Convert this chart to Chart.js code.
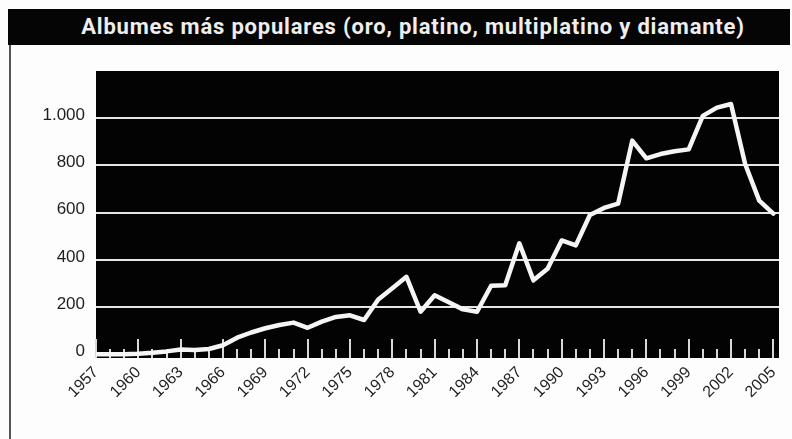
<!DOCTYPE html>
<html>
<head>
<meta charset="utf-8">
<script src="https://cdn.jsdelivr.net/npm/chart.js@4.4.1/dist/chart.umd.min.js"></script>
<style>
  html, body { margin: 0; padding: 0; background: #fdfdfd; }
  #wrap { position: relative; width: 792px; height: 439px; overflow: hidden; }
  #title {
    position: absolute; left: 8px; top: 9px; width: 782px; height: 36px;
    background: #050505; color: #eeeeee; box-sizing: border-box; padding-left: 28px;
    font-family: Roboto, "Liberation Sans", sans-serif; font-weight: bold; font-size: 22px;
    letter-spacing: 0.8px;
    line-height: 36px; text-align: center; white-space: nowrap; z-index: 2;
  }
  #edge { position: absolute; left: 9px; top: 45px; width: 2px; height: 394px; background: #555; z-index: 2; }
  #chartBox { position: absolute; left: 0; top: 0; width: 792px; height: 439px; }
</style>
</head>
<body>
<div id="wrap">
  <div id="title">Albumes más populares (oro, platino, multiplatino y diamante)</div>
  <div id="edge"></div>
  <div id="chartBox"><canvas id="c"></canvas></div>
</div>
<script>
// ---- data ----
const years = [1957,1958,1959,1960,1961,1962,1963,1964,1965,1966,1967,1968,1969,1970,1971,1972,1973,1974,1975,1976,1977,1978,1979,1980,1981,1982,1983,1984,1985,1986,1987,1988,1989,1990,1991,1992,1993,1994,1995,1996,1997,1998,1999,2000,2001,2002,2003,2004,2005];
const albums = [0,0,0,2,6,12,20,18,22,38,70,92,110,124,134,112,138,158,165,145,232,280,328,180,250,220,190,180,290,292,470,313,362,482,461,590,620,638,905,830,848,860,868,1010,1045,1060,806,651,596];
const xTickYears = [1957,1960,1963,1966,1969,1972,1975,1978,1981,1984,1987,1990,1993,1996,1999,2002,2005];
const yTickValues = [0,200,400,600,800,1000];
const yTickLabels = ['0','200','400','600','800','1.000'];

const points = years.map((yr, i) => ({ x: yr, y: albums[i] }));

const plotBg = {
  id: 'plotBg',
  beforeDraw(chart) {
    const { ctx, chartArea: a } = chart;
    ctx.save();
    ctx.fillStyle = '#030303';
    ctx.fillRect(a.left, a.top, a.right - a.left, a.bottom - a.top);
    ctx.restore();
  }
};

const yearTicks = {
  id: 'yearTicks',
  beforeDatasetsDraw(chart) {
    const { ctx, chartArea: a, scales } = chart;
    ctx.save();
    ctx.strokeStyle = '#d8d8d8';
    ctx.lineWidth = 2;
    years.forEach(yr => {
      const x = Math.round(scales.x.getPixelForValue(yr));
      const len = xTickYears.includes(yr) ? 19 : 9;
      ctx.beginPath();
      ctx.moveTo(x, a.bottom);
      ctx.lineTo(x, a.bottom - len);
      ctx.stroke();
    });
    ctx.restore();
  }
};

new Chart(document.getElementById('c'), {
  type: 'line',
  data: {
    datasets: [{
      data: points,
      borderColor: '#f5f5f5',
      borderWidth: 4.5,
      pointRadius: 0,
      tension: 0,
      borderJoinStyle: 'round',
      borderCapStyle: 'round'
    }]
  },
  options: {
    responsive: true,
    maintainAspectRatio: false,
    animation: false,
    layout: { padding: { top: 71, right: 9, left: 0, bottom: 0 } },
    plugins: { legend: { display: false }, tooltip: { enabled: false }, title: { display: false } },
    scales: {
      x: {
        type: 'linear',
        min: 1957,
        max: 2005.4,
        afterBuildTicks(scale) { scale.ticks = xTickYears.map(v => ({ value: v })); },
        afterFit(scale) { scale.height = 81; },
        grid: { display: false, drawTicks: false },
        border: { display: false },
        ticks: {
          minRotation: 45, maxRotation: 45, autoSkip: false, padding: 5,
          color: '#1e1e1e',
          font: { family: 'Liberation Sans, Arial, sans-serif', size: 16 },
          callback: v => String(v)
        }
      },
      y: {
        min: -16,
        max: 1200,
        afterBuildTicks(scale) { scale.ticks = yTickValues.map(v => ({ value: v })); },
        afterFit(scale) { scale.width = 96; },
        grid: {
          drawTicks: false,
          lineWidth: 2,
          color: ctx => (ctx.tick && ctx.tick.value === 0) ? 'rgba(0,0,0,0)' : '#e6e6e6'
        },
        border: { display: false },
        ticks: {
          padding: 11,
          labelOffset: -3,
          color: '#1e1e1e',
          font: { family: 'Liberation Sans, Arial, sans-serif', size: 17 },
          callback: (v) => { const i = yTickValues.indexOf(v); return i >= 0 ? yTickLabels[i] : ''; }
        }
      }
    }
  },
  plugins: [plotBg, yearTicks]
});
</script>
</body>
</html>
